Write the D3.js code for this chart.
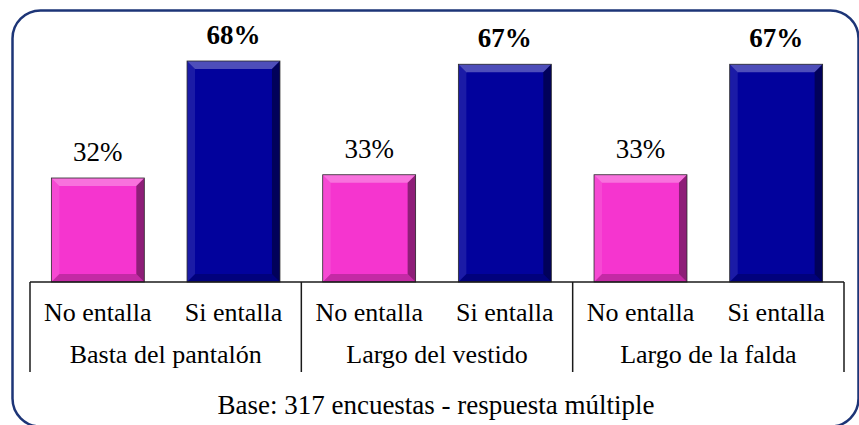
<!DOCTYPE html>
<html>
<head>
<meta charset="utf-8">
<script src="https://cdn.jsdelivr.net/npm/d3@7"></script>
</head>
<body style="margin:0">
<svg id="chart" width="859" height="425"></svg>
<script>
// Survey results: fit of each garment measurement
const groups = ["Basta del pantalón", "Largo del vestido", "Largo de la falda"];
const answers = ["No entalla", "Si entalla"];
const noEntalla = [0.32, 0.33, 0.33];
const siEntalla = [0.68, 0.67, 0.67];
const footnote = "Base: 317 encuestas - respuesta múltiple";

const colors = { "No entalla": "#f535cf", "Si entalla": "#02029c" };

const rows = [];
groups.forEach((g, i) => {
  rows.push({ group: g, answer: answers[0], value: noEntalla[i] });
  rows.push({ group: g, answer: answers[1], value: siEntalla[i] });
});

const svg = d3.select("#chart");

// Rounded frame
svg.append("rect")
  .attr("x", 12.5).attr("y", 10.5)
  .attr("width", 846).attr("height", 416)
  .attr("rx", 28).attr("ry", 28)
  .attr("fill", "none")
  .attr("stroke", "#1d3577")
  .attr("stroke-width", 2.5);

const x0 = d3.scaleBand().domain(groups).range([30, 844]).padding(0);
const x1 = d3.scaleBand().domain(answers).range([0, x0.bandwidth()])
  .paddingInner(0.315).paddingOuter(0.1575);
const y = d3.scaleLinear().domain([0, 0.7]).range([282, 54.5]);
const pct = d3.format(".0%");
const bw = x1.bandwidth();
const barX = d => x0(d.group) + x1(d.answer);

const bars = svg.append("g").selectAll("g.bar")
  .data(rows).join("g")
  .attr("class", "bar")
  .attr("transform", d => `translate(${barX(d)},${y(d.value)})`);

bars.append("rect")
  .attr("width", bw)
  .attr("height", d => y(0) - y(d.value))
  .attr("fill", d => colors[d.answer]);

// Bevelled edges
const b = 8;
bars.each(function (d) {
  const h = y(0) - y(d.value);
  const g = d3.select(this);
  const faces = [
    { pts: [[0, 0], [bw, 0], [bw - b, b], [b, b]], fill: "#fff", op: 0.3 },
    { pts: [[0, 0], [b, b], [b, h - b], [0, h]], fill: "#fff", op: 0.1 },
    { pts: [[bw, 0], [bw, h], [bw - b, h - b], [bw - b, b]], fill: "#000", op: 0.42 },
    { pts: [[0, h], [b, h - b], [bw - b, h - b], [bw, h]], fill: "#000", op: 0.2 }
  ];
  g.selectAll("polygon").data(faces).join("polygon")
    .attr("points", f => f.pts.map(p => p.join(",")).join(" "))
    .attr("fill", f => f.fill)
    .attr("fill-opacity", f => f.op);
  g.append("rect")
    .attr("width", bw).attr("height", h)
    .attr("fill", "none")
    .attr("stroke", "#2a2a2a")
    .attr("stroke-width", 0.8);
});

// Two-level category axis
const axis = svg.append("g").attr("stroke", "#1a1a1a").attr("stroke-width", 1.5);
axis.append("line")
  .attr("x1", x0.range()[0]).attr("x2", x0.range()[1])
  .attr("y1", y(0)).attr("y2", y(0));
const seps = groups.map(g => x0(g)).concat([x0.range()[1]]);
axis.selectAll("line.sep").data(seps).join("line")
  .attr("class", "sep")
  .attr("x1", d => d).attr("x2", d => d)
  .attr("y1", y(0)).attr("y2", 372);

// All labels: left-anchored text, centred by measuring its width
const labels = [];
rows.forEach(d => {
  labels.push({ t: pct(d.value), cx: barX(d) + bw / 2, y: y(d.value) - 17, size: 27,
                bold: d.answer === "Si entalla" });
  labels.push({ t: d.answer, cx: barX(d) + bw / 2, y: 321, size: 26, bold: false });
});
groups.forEach(g => labels.push({ t: g, cx: x0(g) + x0.bandwidth() / 2, y: 363, size: 26, bold: false }));
labels.push({ t: footnote, cx: 436, y: 414, size: 27, bold: false });

svg.selectAll("text.lbl")
  .data(labels).join("text")
  .attr("class", "lbl")
  .attr("x", d => d.cx).attr("y", d => d.y)
  .attr("font-size", d => d.size)
  .style("font-family", d => `"Liberation Serif"`)
  .style("font-weight", d => d.bold ? "bold" : null)
  .text(d => d.t)
  .attr("x", function (d) { return d.cx - this.getComputedTextLength() / 2; });
</script>
</body>
</html>
